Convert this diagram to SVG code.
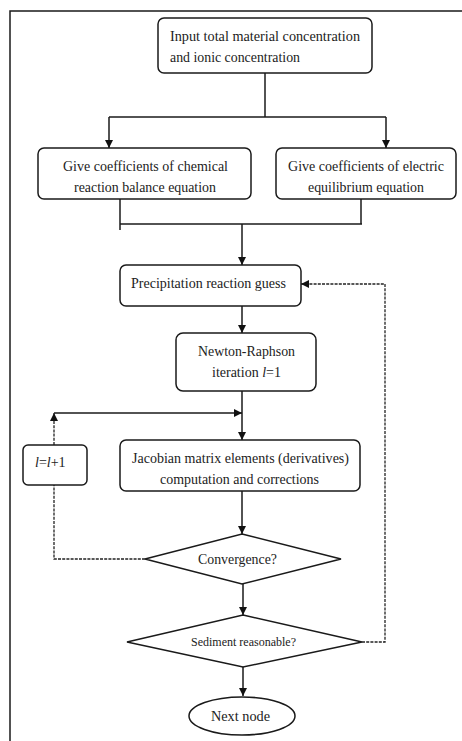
<svg xmlns="http://www.w3.org/2000/svg" width="462" height="741" viewBox="0 0 462 741" font-family="'Liberation Serif', 'Times New Roman', serif">
  <style>
    .box { fill: #fff; stroke: #1a1a1a; stroke-width: 1.5; }
    .line { fill: none; stroke: #1a1a1a; stroke-width: 1.5; }
    .dot { fill: none; stroke: #222; stroke-width: 1.3; stroke-dasharray: 3 1.2; }
    text { font-family: "Liberation Serif", "Times New Roman", serif; font-size: 14px; fill: #222; }
  </style>
  <defs>
    <marker id="arrow" viewBox="0 0 10 10" refX="10" refY="5" markerWidth="9" markerHeight="8" markerUnits="userSpaceOnUse" orient="auto">
      <path d="M0,0 L10,5 L0,10 Z" fill="#111"/>
    </marker>
  </defs>

  <rect width="462" height="741" fill="#fff"/>
  <!-- outer frame (top and left edges) -->
  <path class="line" d="M10,745 L10,11 L470,11"/>

  <g id="connectors">
    <path class="line" d="M265,73 L265,117"/>
    <path class="line" d="M109,117 L386,117"/>
    <path class="line" d="M109,117 L109,148" marker-end="url(#arrow)"/>
    <path class="line" d="M386,117 L386,148" marker-end="url(#arrow)"/>
    <path class="line" d="M120,199 L120,230"/>
    <path class="line" d="M361,199 L361,224"/>
    <path class="line" d="M120,224 L362,224"/>
    <path class="line" d="M242,224 L242,265" marker-end="url(#arrow)"/>
    <path class="line" d="M242,306 L242,333" marker-end="url(#arrow)"/>
    <path class="line" d="M242,391 L242,440" marker-end="url(#arrow)"/>
    <path class="line" d="M54,413 L242,413" marker-end="url(#arrow)"/>
    <path class="dot" d="M54,445 L54,413" marker-end="url(#arrow)"/>
    <path class="dot" d="M145,559 L54,559 L54,485"/>
    <path class="line" d="M242,491 L242,534" marker-end="url(#arrow)"/>
    <path class="line" d="M243,584 L243,615" marker-end="url(#arrow)"/>
    <path class="dot" d="M362,642 L385,642 L385,284 L301,284" marker-end="url(#arrow)"/>
    <path class="line" d="M243,667 L243,696" marker-end="url(#arrow)"/>
  </g>

  <g id="input">
    <rect class="box" x="158" y="18" width="214" height="55" rx="6"/>
    <text x="170" y="41" textLength="190" lengthAdjust="spacingAndGlyphs">Input total material concentration</text>
    <text x="170" y="62" textLength="130" lengthAdjust="spacingAndGlyphs">and ionic concentration</text>
  </g>

  <g id="chemical">
    <rect class="box" x="38" y="148" width="213" height="51" rx="6"/>
    <text x="63" y="171" textLength="165" lengthAdjust="spacingAndGlyphs">Give coefficients of chemical</text>
    <text x="74" y="192" textLength="142" lengthAdjust="spacingAndGlyphs">reaction balance equation</text>
  </g>

  <g id="electric">
    <rect class="box" x="276" y="148" width="180" height="51" rx="6"/>
    <text x="288" y="171" textLength="156" lengthAdjust="spacingAndGlyphs">Give coefficients of electric</text>
    <text x="308" y="192" textLength="116" lengthAdjust="spacingAndGlyphs">equilibrium equation</text>
  </g>

  <g id="precipitation">
    <rect class="box" x="120" y="265" width="181" height="41" rx="6"/>
    <text x="131" y="288" textLength="155" lengthAdjust="spacingAndGlyphs">Precipitation reaction guess</text>
  </g>

  <g id="newton">
    <rect class="box" x="176" y="333" width="140" height="58" rx="7"/>
    <text x="198" y="356" textLength="97" lengthAdjust="spacingAndGlyphs">Newton-Raphson</text>
    <text x="212" y="377">iteration <tspan font-style="italic">l</tspan>=1</text>
  </g>

  <g id="increment">
    <rect class="box" x="23" y="445" width="64" height="40" rx="5"/>
    <text x="35" y="467"><tspan font-style="italic">l</tspan>=<tspan font-style="italic">l</tspan>+1</text>
  </g>

  <g id="jacobian">
    <rect class="box" x="120" y="440" width="240" height="51" rx="6"/>
    <text x="132" y="463" textLength="217" lengthAdjust="spacingAndGlyphs">Jacobian matrix elements (derivatives)</text>
    <text x="160" y="484" textLength="159" lengthAdjust="spacingAndGlyphs">computation and corrections</text>
  </g>

  <g id="convergence">
    <polygon class="box" points="242,534 341,559 242,584 145,559"/>
    <text x="198" y="564" textLength="79" lengthAdjust="spacingAndGlyphs">Convergence?</text>
  </g>

  <g id="sediment">
    <polygon class="box" points="243,615 362,642 243,667 127,642"/>
    <text x="191" y="646" style="font-size:12px" textLength="105" lengthAdjust="spacingAndGlyphs">Sediment reasonable?</text>
  </g>

  <g id="next">
    <ellipse class="box" cx="242" cy="716" rx="53" ry="19"/>
    <text x="211" y="721" textLength="59" lengthAdjust="spacingAndGlyphs">Next node</text>
  </g>
</svg>
